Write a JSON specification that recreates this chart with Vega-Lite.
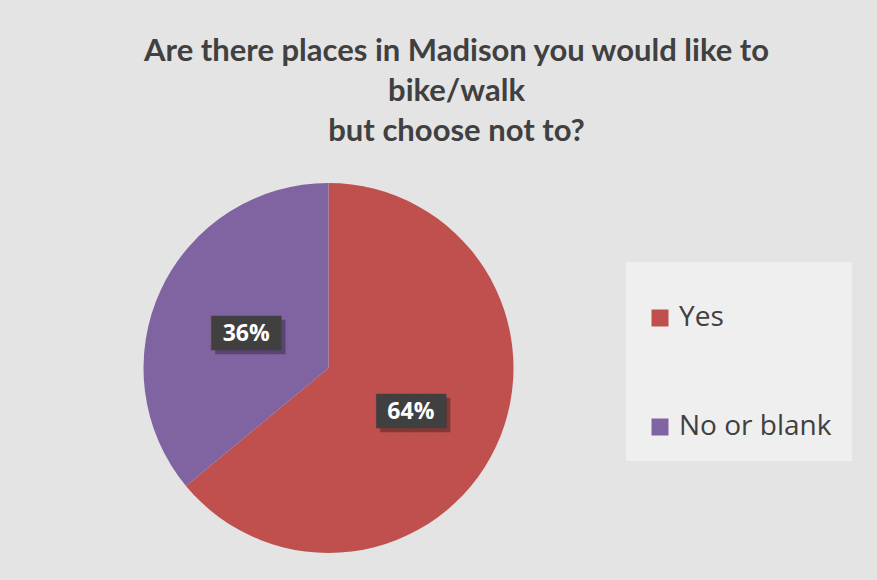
{
  "$schema": "https://vega.github.io/schema/vega-lite/v6.json",
  "width": 657,
  "height": 416,
  "autosize": {"type": "none"},
  "padding": {"left": 0, "top": 160, "right": 220, "bottom": 4},
  "background": "#e4e4e4",
  "config": {"view": {"stroke": null}},
  "title": {
    "text": ["Are there places in Madison you would like to", "bike/walk", "but choose not to?"],
    "font": "Lato",
    "fontSize": 31,
    "fontWeight": "bold",
    "color": "#404040",
    "lineHeight": 40,
    "anchor": "middle",
    "dx": 128,
    "offset": 12
  },
  "data": {
    "values": [
      {"answer": "Yes", "pct": 0.64},
      {"answer": "No or blank", "pct": 0.36}
    ]
  },
  "encoding": {
    "theta": {"field": "pct", "type": "quantitative", "stack": true},
    "order": {"field": "answer", "sort": "descending"}
  },
  "layer": [
    {
      "mark": {"type": "arc", "outerRadius": 185},
      "encoding": {
        "color": {
          "field": "answer",
          "type": "nominal",
          "sort": ["Yes", "No or blank"],
          "scale": {"domain": ["Yes", "No or blank"], "range": ["#C0504D", "#8064A2"]},
          "legend": {
            "orient": "none",
            "legendX": 626,
            "legendY": 102,
            "title": " ",
            "titleFontSize": 6,
            "titlePadding": 16,
            "fillColor": "#efefef",
            "padding": 20,
            "symbolType": "square",
            "symbolSize": 289,
            "symbolStrokeWidth": 0,
            "labelFont": "Open Sans",
            "labelFontSize": 28,
            "labelColor": "#404040",
            "labelOffset": 5,
            "rowPadding": 81
          }
        }
      }
    },
    {
      "mark": {"type": "text", "radius": 91, "text": "████", "font": "DejaVu Sans Mono", "fontSize": 29, "color": "#000000", "opacity": 0.3, "dx": 4, "dy": 9}
    },
    {
      "mark": {"type": "text", "radius": 91, "text": "████", "font": "DejaVu Sans Mono", "fontSize": 29, "color": "#404040", "dy": 5}
    },
    {
      "mark": {"type": "text", "radius": 91, "font": "Open Sans", "fontSize": 23, "fontWeight": "bold", "color": "#ffffff", "dy": 5},
      "encoding": {"text": {"field": "pct", "type": "quantitative", "format": ".0%"}}
    }
  ]
}
